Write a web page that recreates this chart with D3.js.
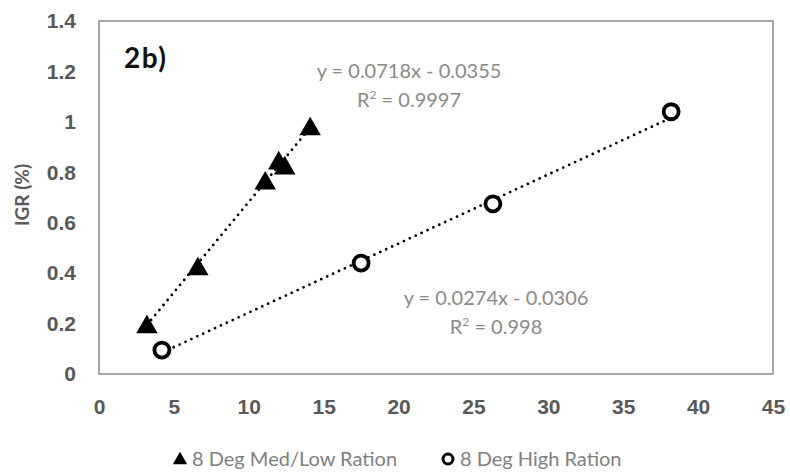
<!DOCTYPE html>
<html lang="en">
<head>
    <meta charset="UTF-8">
    <title>2b) IGR</title>
    <script src="https://d3js.org/d3.v7.min.js"></script>
    <style>
        body {
            margin: 0;
            padding: 0;
            background: #fff;
        }
        svg {
            display: block;
            font-family: Lato, "Open Sans", sans-serif;
        }
        .tick-label {
            fill: #595959;
            font-size: 21px;
            font-weight: bold;
        }
        .eq {
            fill: #8a8a8a;
            font-size: 20px;
        }
        .legend-text {
            fill: #7f7f7f;
            font-size: 20px;
        }
    </style>
</head>
<body>
    <script>
        // data
        var medLowX = [3.2, 6.6, 11.1, 12.0, 12.4, 14.1];
        var medLowY = [0.19, 0.42, 0.76, 0.84, 0.82, 0.975];
        var highX = [4.2, 17.5, 26.3, 38.2];
        var highY = [0.095, 0.44, 0.675, 1.04];

        var xTicks = [0, 5, 10, 15, 20, 25, 30, 35, 40, 45];
        var yTicks = [0, 0.2, 0.4, 0.6, 0.8, 1, 1.2, 1.4];

        var fitMedLow = { slope: 0.0718, intercept: -0.0355, eq: 'y = 0.0718x - 0.0355', r2: '0.9997' };
        var fitHigh = { slope: 0.0274, intercept: -0.0306, eq: 'y = 0.0274x - 0.0306', r2: '0.998' };

        var legendNames = ['8 Deg Med/Low Ration', '8 Deg High Ration'];

        var width = 790, height = 474;
        var margin = { top: 21, right: 17, bottom: 100, left: 99 };

        var svg = d3.select('body').append('svg')
            .attr('width', width)
            .attr('height', height);

        var x = d3.scaleLinear().domain([0, 45]).range([margin.left, width - margin.right]);
        var y = d3.scaleLinear().domain([0, 1.4]).range([height - margin.bottom, margin.top]);

        // plot frame
        svg.append('rect')
            .attr('x', x(0))
            .attr('y', y(1.4))
            .attr('width', x(45) - x(0))
            .attr('height', y(0) - y(1.4))
            .attr('fill', 'none')
            .attr('stroke', '#8c8c8c')
            .attr('stroke-width', 1.5);

        // axes, labels only
        var xAxis = svg.append('g')
            .attr('transform', 'translate(0,' + y(0) + ')')
            .call(d3.axisBottom(x).tickValues(xTicks).tickSize(0).tickPadding(25));
        xAxis.select('.domain').remove();
        xAxis.selectAll('text').attr('class', 'tick-label').attr('fill', null).attr('font-size', null).attr('font-family', null);

        var yAxis = svg.append('g')
            .attr('transform', 'translate(' + x(0) + ',0)')
            .call(d3.axisLeft(y).tickValues(yTicks).tickSize(0).tickPadding(23).tickFormat(d3.format('')));
        yAxis.select('.domain').remove();
        yAxis.selectAll('text').attr('class', 'tick-label').attr('fill', null).attr('font-size', null).attr('font-family', null);

        svg.append('text')
            .attr('class', 'tick-label')
            .attr('transform', 'translate(29,' + y(0.71) + ') rotate(-90)')
            .attr('text-anchor', 'middle')
            .style('font-size', '19px')
            .text('IGR (%)');

        svg.append('text')
            .attr('x', 124)
            .attr('y', 68)
            .style('font-size', '28px')
            .style('font-weight', 'bold')
            .style('letter-spacing', '1.5px')
            .attr('fill', '#111')
            .text('2b)');

        // dotted trendlines over each series' x range
        function trend(xs, fit) {
            var x0 = d3.min(xs), x1 = d3.max(xs);
            svg.append('line')
                .attr('x1', x(x0)).attr('y1', y(fit.slope * x0 + fit.intercept))
                .attr('x2', x(x1)).attr('y2', y(fit.slope * x1 + fit.intercept))
                .attr('stroke', '#000')
                .attr('stroke-width', 2.8)
                .attr('stroke-linecap', 'round')
                .attr('stroke-dasharray', '0,6.5');
        }
        trend(medLowX, fitMedLow);
        trend(highX, fitHigh);

        var tri = d3.symbol().type(d3.symbolTriangle).size(200);

        svg.selectAll('.tri')
            .data(d3.zip(medLowX, medLowY))
            .enter().append('path')
            .attr('class', 'tri')
            .attr('d', tri)
            .attr('transform', function(d) { return 'translate(' + x(d[0]) + ',' + (y(d[1]) + 1) + ')'; })
            .attr('fill', '#000');

        svg.selectAll('.circ')
            .data(d3.zip(highX, highY))
            .enter().append('circle')
            .attr('class', 'circ')
            .attr('cx', function(d) { return x(d[0]); })
            .attr('cy', function(d) { return y(d[1]); })
            .attr('r', 7.5)
            .attr('fill', '#fff')
            .attr('stroke', '#000')
            .attr('stroke-width', 3.8);

        // equation labels
        function eqLabel(cx, cy, fit) {
            var t = svg.append('text').attr('class', 'eq').attr('text-anchor', 'middle');
            t.append('tspan').attr('x', cx).attr('y', cy).text(fit.eq);
            t.append('tspan').attr('x', cx).attr('y', cy + 29).text('R');
            t.append('tspan').attr('dy', -8).style('font-size', '12px').text('2');
            t.append('tspan').attr('dy', 8).text(' = ' + fit.r2);
        }
        eqLabel(409, 78, fitMedLow);
        eqLabel(496, 305, fitHigh);

        // legend
        var lg = svg.append('g').attr('transform', 'translate(0,459)');
        lg.append('path')
            .attr('d', d3.symbol().type(d3.symbolTriangle).size(90))
            .attr('transform', 'translate(180,1)')
            .attr('fill', '#000');
        lg.append('text').attr('class', 'legend-text').attr('x', 192).attr('y', 7).text(legendNames[0]);
        lg.append('circle')
            .attr('cx', 448).attr('cy', 0).attr('r', 5)
            .attr('fill', '#fff').attr('stroke', '#000').attr('stroke-width', 3);
        lg.append('text').attr('class', 'legend-text').attr('x', 460).attr('y', 7).text(legendNames[1]);
    </script>
</body>
</html>
